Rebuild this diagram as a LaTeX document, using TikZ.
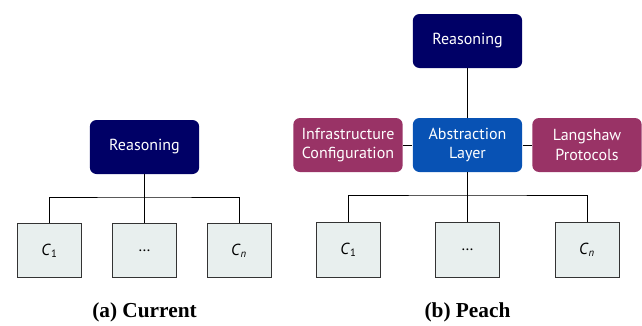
\documentclass[tikz,border=0pt]{standalone}
\usepackage{fontspec}
\setmainfont{Liberation Serif}
\newfontfamily\boxfont{PT Sans}
\usetikzlibrary{positioning}

\definecolor{reasonblue}{RGB}{0,0,102}
\definecolor{layerblue}{RGB}{8,82,180}
\definecolor{plum}{RGB}{153,51,102}
\definecolor{compfill}{RGB}{232,239,238}

\begin{document}
\begin{tikzpicture}[x=0.75pt,y=-0.75pt,line width=0.7pt]
    \tikzstyle{block}=[rectangle,rounded corners=5pt,draw=none,text=white,
        font=\boxfont\fontsize{12}{14.5}\selectfont,align=center,
        minimum width=82pt,minimum height=40.5pt,inner sep=0pt]
    \tikzstyle{reason}=[block, fill=reasonblue]
    \tikzstyle{layer}=[block, fill=layerblue]
    \tikzstyle{plugin}=[block, fill=plum]
    \tikzstyle{component}=[rectangle,draw=black!80,fill=compfill,
        minimum width=48pt,minimum height=41pt,inner sep=0pt,
        font=\boxfont\fontsize{12}{14}\selectfont]
    \tikzstyle{caption}=[font=\bfseries\fontsize{16}{18}\selectfont]

    \useasboundingbox (0,0) rectangle (642,325);

    % (a) current setup
    \node[reason] (RL) at (144.5,147) {Reasoning};

    \node[component] (L-1) at (49.5,250.5) {\textit{C}\textsubscript{1}};
    \node[component] (L-2) at (144.5,250.5) {\ldots};
    \node[component] (L-3) at (239,250.5) {\textit{C}\textsubscript{\textit{n}}};

    \coordinate (barL) at (144.5,197);
    \draw (RL) -- (L-2);
    \draw (L-1.north) |- (barL) -| (L-3.north);

    \node[caption] at (144.5,312) {(a) Current};

    % (b) with the abstraction layer
    \node[reason] (RR) at (467.5,41) {Reasoning};
    \node[layer] (AL) at (467.5,145) {Abstraction\\Layer};
    \node[plugin] (IC) at (348,145) {Infrastructure\\Configuration};
    \node[plugin] (LP) at (587,145) {Langshaw\\Protocols};

    \node[component] (R-1) at (348.5,250) {\textit{C}\textsubscript{1}};
    \node[component] (R-2) at (467.5,250) {\ldots};
    \node[component] (R-3) at (587,250) {\textit{C}\textsubscript{\textit{n}}};

    \draw (RR) -- (AL);
    \draw (IC) -- (AL);
    \draw (AL) -- (LP);
    \coordinate (barR) at (467.5,195);
    \draw (AL) -- (R-2);
    \draw (R-1.north) |- (barR) -| (R-3.north);

    \node[caption] at (467.5,312) {(b) Peach};
\end{tikzpicture}
\end{document}
